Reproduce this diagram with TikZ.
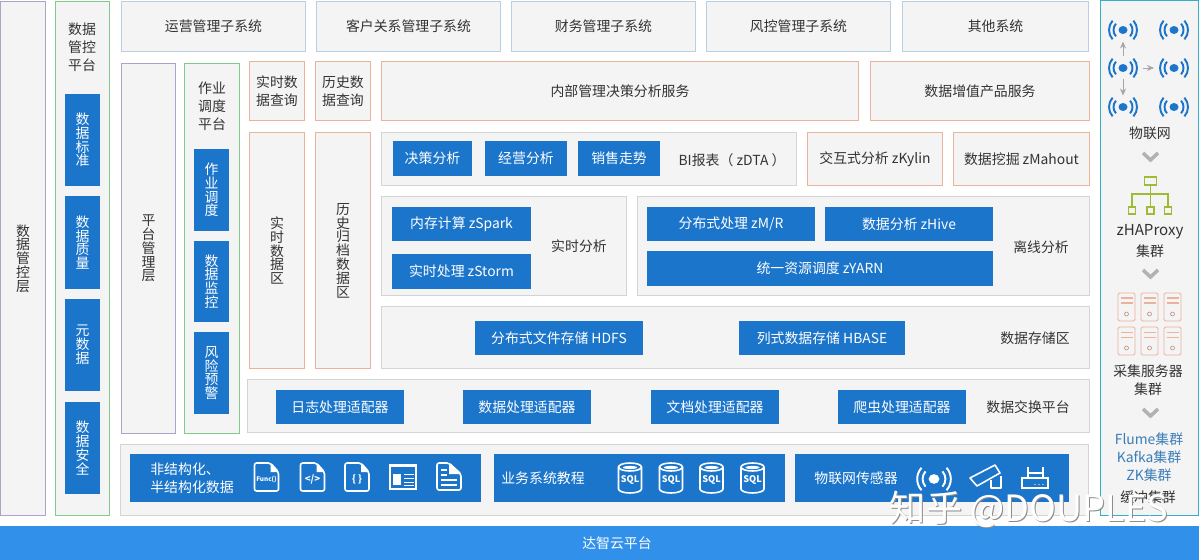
\documentclass[tikz,border=0pt]{standalone}
\usepackage{fontspec}
\setmainfont{Noto Sans CJK SC}
\usetikzlibrary{arrows.meta,positioning}
\setlength{\lineskiplimit}{-20pt}
\definecolor{blkblue}{HTML}{1B75CB}
\definecolor{barblue}{HTML}{3090EA}
\definecolor{panelfill}{HTML}{F4F4F4}
\definecolor{purpleedge}{HTML}{ADA3C9}
\definecolor{greenedge}{HTML}{82C98C}
\definecolor{orangeedge}{HTML}{EBB29C}
\definecolor{greyedge}{HTML}{D4D4D4}
\definecolor{topedge}{HTML}{BACFE2}
\definecolor{tealedge}{HTML}{35AFC4}
\definecolor{limeedge}{HTML}{9DBB35}
\definecolor{linktext}{HTML}{3B7DB9}
\definecolor{textgrey}{HTML}{333333}
\tikzset{
        basebox/.style={rectangle, inner sep=0pt, outer sep=0pt, align=center, text=textgrey,
            font=\fontsize{7.9}{10.2}\selectfont},
        vtxt/.style={font=\fontsize{7.9}{7.85}\selectfont},
        edged/.style={basebox, fill=panelfill, line width=0.57pt, xshift=0.01cm, yshift=-0.01cm},
        blkbox/.style={basebox, fill=blkblue, text=white},
        purplebox/.style={edged, draw=purpleedge},
        greenbox/.style={edged, draw=greenedge},
        orangebox/.style={edged, draw=orangeedge},
        greybox/.style={edged, draw=greyedge},
        topbox/.style={edged, draw=topedge},
        tealbox/.style={edged, draw=tealedge},
        barbox/.style={basebox, fill=barblue, text=white},
        lbl/.style={basebox},
        wifinode/.style={inner sep=0pt, outer sep=0pt, minimum width=0.8cm, minimum height=0.46cm},
        chevron/.style={draw=black!30, line width=2pt},
        iconline/.style={draw=white, line width=0.9pt},
    }
% box given by its corners
\newcommand{\blk}[7]{\node[#1, minimum width={(#5-#3)*0.02cm}, minimum height={(#6-#4)*0.02cm}] (#2) at ({(#3+#5)/2},{(#4+#6)/2}) {#7};}
\newcommand{\wifi}[5]{
    \node[wifinode] (#1) at (#2,#3) {};
    \begin{scope}[shift={(#2,#3)}, scale=#4]
        \fill[#5] (0,0) ellipse[x radius=4.5, y radius=4];
        \foreach \r in {0.19cm,0.28cm}
        {
            \draw[#5, line width=1.1pt] (-42:\r) arc[start angle=-42, end angle=42, radius=\r];
            \draw[#5, line width=1.1pt] (138:\r) arc[start angle=138, end angle=222, radius=\r];
        }
    \end{scope}
}
\newcommand{\fileicon}[5]{
    \begin{scope}[shift={(#2,#3)}]
        \draw[iconline, rounded corners=1.2pt] (-12,-14)--(4,-14)--(12,-5)--(12,14)--(-12,14)--cycle;
        \fill[white] (4,-14)--(12,-5)--(4,-5)--cycle;
        \node[text=white, inner sep=0pt, font=\fontsize{#4}{#4}\bfseries\selectfont] (#1) at (0,2) {#5};
    \end{scope}
}
\newcommand{\dbicon}[3]{
    \begin{scope}[shift={(#2,#3)}]
        \draw[iconline] (-11.5,-11)--(-11.5,11) arc[start angle=180, end angle=360, x radius=0.23cm, y radius=0.08cm]--(11.5,-11);
        \draw[iconline] (0,-11) ellipse[x radius=11.5, y radius=4];
        \fill[white] (0,-10.5) ellipse[x radius=7, y radius=1.6];
        \node[text=white, inner sep=0pt, font=\fontsize{5.2}{5.2}\bfseries\selectfont] (#1) at (0,2) {SQL};
    \end{scope}
}
\newcommand{\servericon}[2]{
    \begin{scope}[shift={(#1,#2)}]
        \draw[orangeedge, line width=0.5pt, rounded corners=0.8pt] (-8.5,-14) rectangle (8.5,14);
        \fill[orangeedge] (-6,-9.5) rectangle (6,-7.7);
        \fill[orangeedge] (-6,-4.5) rectangle (6,-2.7);
        \draw[orangeedge!80!black, line width=0.35pt] (0,7) circle[radius=2];
    \end{scope}
}
\begin{document}
\begin{tikzpicture}[x=0.02cm, y=-0.02cm]
    \useasboundingbox (0,0) rectangle (1199,560);
    % outer columns
    \blk{purplebox,vtxt}{ctrlLayer}{0}{1}{45}{515}{数\\据\\管\\控\\层}
    \blk{greenbox}{ctrlPlat}{55}{1}{109}{515}{}
    \node[lbl] (ctrlPlatT) at (82,47) {数据\\管控\\平台};
    \blk{blkbox,vtxt}{dStd}{65}{94}{100}{186}{数\\据\\标\\准}
    \blk{blkbox,vtxt}{dQual}{65}{196}{100}{289}{数\\据\\质\\量}
    \blk{blkbox,vtxt}{dMeta}{65}{299}{100}{391}{元\\数\\据}
    \blk{blkbox,vtxt}{dSafe}{65}{402}{100}{494}{数\\据\\安\\全}
    % top row
    \blk{topbox}{sysA}{121}{1}{305}{51}{运营管理子系统}
    \blk{topbox}{sysB}{316}{1}{500}{51}{客户关系管理子系统}
    \blk{topbox}{sysC}{511}{1}{695}{51}{财务管理子系统}
    \blk{topbox}{sysD}{706}{1}{890}{51}{风控管理子系统}
    \blk{topbox}{sysE}{902}{1}{1088}{51}{其他系统}
    % platform columns
    \blk{purplebox,vtxt}{platMgr}{121}{63}{175}{433}{平\\台\\管\\理\\层}
    \blk{greenbox}{jobPlat}{184}{63}{239}{433}{}
    \node[lbl] (jobPlatT) at (212,106) {作业\\调度\\平台};
    \blk{blkbox,vtxt}{jobA}{194}{149}{229}{231}{作\\业\\调\\度}
    \blk{blkbox,vtxt}{jobB}{194}{241}{229}{322}{数\\据\\监\\控}
    \blk{blkbox,vtxt}{jobC}{194}{332}{229}{414}{风\\险\\预\\警}
    % data zones
    \blk{orangebox}{rtQuery}{249}{61}{304}{120}{实时数\\据查询}
    \blk{orangebox}{hisQuery}{315}{61}{370}{120}{历史数\\据查询}
    \blk{orangebox,vtxt}{rtZone}{249}{132}{304}{368}{实\\时\\数\\据\\区}
    \blk{orangebox,vtxt}{hisZone}{315}{132}{370}{368}{历\\史\\归\\档\\数\\据\\区}
    \blk{orangebox}{svcA}{381}{61}{858}{120}{内部管理决策分析服务}
    \blk{orangebox}{svcB}{870}{61}{1089}{120}{数据增值产品服务}
    % BI row
    \blk{greybox}{biGrp}{381}{132}{796}{185}{}
    \blk{blkbox}{biA}{393}{141}{472}{176}{决策分析}
    \blk{blkbox}{biB}{485}{141}{567}{176}{经营分析}
    \blk{blkbox}{biC}{578}{141}{660}{176}{销售走势}
    \node[lbl] (biT) at (732,160) {BI报表（ zDTA ）};
    \blk{orangebox}{kylin}{807}{132}{942}{185}{交互式分析 zKylin}
    \blk{orangebox}{mahout}{953}{132}{1089}{185}{数据挖掘 zMahout}
    % analysis row
    \blk{greybox}{rtGrp}{381}{196}{626}{295}{}
    \blk{blkbox}{spark}{392}{207}{531}{241}{内存计算 zSpark}
    \blk{blkbox}{storm}{392}{254}{531}{289}{实时处理 zStorm}
    \node[lbl] (rtT) at (579,246) {实时分析};
    \blk{greybox}{offGrp}{637}{196}{1089}{295}{}
    \blk{blkbox}{mr}{647}{207}{815}{241}{分布式处理 zM/R}
    \blk{blkbox}{hive}{825}{207}{993}{241}{数据分析 zHive}
    \blk{blkbox}{yarn}{647}{251}{993}{286}{统一资源调度 zYARN}
    \node[lbl] (offT) at (1041,247) {离线分析};
    % storage and exchange
    \blk{greybox}{storeGrp}{381}{306}{1089}{368}{}
    \blk{blkbox}{hdfs}{475}{321}{643}{355}{分布式文件存储 HDFS}
    \blk{blkbox}{hbase}{739}{321}{905}{355}{列式数据存储 HBASE}
    \node[lbl] (storeT) at (1035,338) {数据存储区};
    \blk{greybox}{swapGrp}{247}{379}{1089}{432}{}
    \blk{blkbox}{adpA}{276}{390}{404}{424}{日志处理适配器}
    \blk{blkbox}{adpB}{463}{390}{591}{424}{数据处理适配器}
    \blk{blkbox}{adpC}{651}{390}{779}{424}{文档处理适配器}
    \blk{blkbox}{adpD}{838}{390}{966}{424}{爬虫处理适配器}
    \node[lbl] (swapT) at (1028,407) {数据交换平台};
    % sources
    \blk{greybox}{srcGrp}{120}{444}{1088}{515}{}
    \blk{blkbox}{srcA}{130}{454}{481}{502}{}
    \node[lbl, text=white, align=left] (srcAT) at (192,478) {非结构化、\\半结构化数据};
    \blk{blkbox}{srcB}{494}{454}{785}{502}{}
    \node[lbl, text=white] (srcBT) at (543,478) {业务系统教程};
    \blk{blkbox}{srcC}{795}{454}{1069}{502}{}
    \node[lbl, text=white] (srcCT) at (856,478) {物联网传感器};
    \fileicon{fileFunc}{266.5}{477}{3.6}{Func()}
    \fileicon{fileCode}{312.5}{477}{5.5}{</>}
    \fileicon{fileJson}{357}{477}{5.5}{\{ \}}
    \draw[white, line width=1.2pt] (390,465) rectangle (416,489);
    \fill[white] (389,464) rectangle (417,467);
    \fill[white] (393,474) rectangle (401,485);
    \foreach \y in {474,478,482,485} \draw[white, line width=0.4pt] (404,\y)--(414,\y);
    \draw[iconline, rounded corners=1.2pt] (437,463)--(449,463)--(461,474)--(461,490)--(437,490)--cycle;
    \foreach \y in {470,475} \draw[white, line width=0.8pt] (441,\y)--(447,\y);
    \foreach \y in {480,485} \draw[white, line width=0.8pt] (441,\y)--(457,\y);
    \fill[white] (449,463)--(461,474)--(449,474)--cycle;
    \dbicon{dbA}{630}{478}
    \dbicon{dbB}{671}{478}
    \dbicon{dbC}{711.5}{478}
    \dbicon{dbD}{752.5}{478}
    \wifi{iotS}{934}{479}{1.2}{white}
    % camera and router
    \draw[iconline, line join=round] (970,478)--(995,465)--(1000,473)--(977,486)--cycle;
    \draw[iconline, line join=round] (991,480)--(991,488)--(1001,488)--(1001,476);
    \draw[iconline] (1022,478) rectangle (1048,488);
    \draw[iconline] (1028,478)--(1028,467);
    \draw[iconline] (1043,478)--(1043,467);
    \draw[iconline] (1028,473)--(1043,473);
    \foreach \x in {1035,1039,1043} \fill[white] (\x,484.5) circle[radius=0.7];
    % bottom bar
    \blk{barbox}{cloud}{0}{526}{1199}{560}{}
    \node[lbl, text=white] (cloudT) at (617,543) {达智云平台};
    % right panel
    \blk{tealbox}{rightPanel}{1100}{0}{1198}{515}{}
    \wifi{wA}{1123}{30}{1}{blkblue}
    \wifi{wB}{1174}{30}{1}{blkblue}
    \wifi{wC}{1123}{68}{1}{blkblue}
    \wifi{wD}{1174}{68}{1}{blkblue}
    \wifi{wE}{1123}{107}{1}{blkblue}
    \wifi{wF}{1174}{107}{1}{blkblue}
    \foreach \a/\b in {wC/wA,wC/wD,wC/wE}
        \draw[-{Stealth[length=4pt,width=3.4pt]}, black!35, line width=0.5pt] (\a)--(\b);
    \node[lbl] (iotT) at (1150,133) {物联网};
    \draw[chevron] (1143,153)--(1150.5,160)--(1158,153);
    % proxy tree
    \node[draw=limeedge, line width=0.8pt, minimum width=0.24cm, minimum height=0.16cm, inner sep=0pt] (hub) at (1150.5,181) {};
    \foreach \n/\x in {leafA/1132,leafB/1150.5,leafC/1168}
        \node[draw=limeedge, line width=0.8pt, minimum size=0.14cm, inner sep=0pt] (\n) at (\x,210.5) {};
    \draw[limeedge, line width=0.6pt] (hub) -- (leafB);
    \draw[limeedge, line width=0.6pt] (leafA) |- (1150.5,194) -| (leafC);
    \node[lbl, font=\fontsize{8.6}{10.2}\selectfont] (proxyT) at (1150,232) {zHAProxy};
    \node[lbl] (proxyS) at (1150,251) {集群};
    \draw[chevron] (1143,270)--(1150.5,277)--(1158,270);
    % servers
    \foreach \x in {1126.5,1149.5,1172.5} \foreach \y in {307,341}
    {
        \servericon{\x}{\y}
    }
    \node[lbl] (srvT) at (1148,371) {采集服务器};
    \node[lbl] (srvS) at (1148,389) {集群};
    \draw[chevron] (1143,409)--(1150.5,416)--(1158,409);
    \node[lbl, text=linktext, font=\fontsize{7.9}{10.4}\selectfont] (bufA) at (1149,457) {Flume集群\\Kafka集群\\ZK集群};
    \node[lbl] (bufT) at (1148,497) {缓冲集群};
    % watermark
    \node[text=black!45, inner sep=0pt, font=\fontsize{20.6}{20.6}\selectfont] (markS) at (1030,510.5) {知乎 @DOUPLES};
    \node[text=white, inner sep=0pt, font=\fontsize{20.6}{20.6}\selectfont] (markT) at (1029,509.5) {知乎 @DOUPLES};
\end{tikzpicture}
\end{document}
